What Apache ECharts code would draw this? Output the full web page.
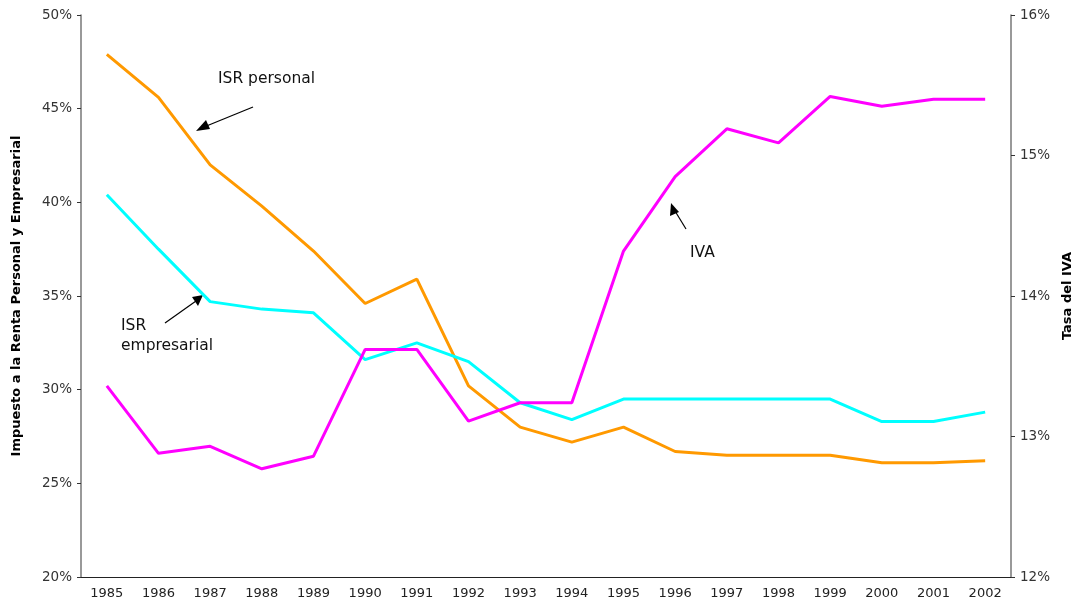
<!DOCTYPE html>
<html>
<head>
<meta charset="utf-8">
<script src="https://cdn.jsdelivr.net/npm/echarts@6/dist/echarts.min.js"></script>
<style>
  html, body { margin: 0; padding: 0; background: #fff; }
  #chart { width: 1076px; height: 606px; }
</style>
</head>
<body>
<div id="chart"></div>
<script>
var years = ['1985','1986','1987','1988','1989','1990','1991','1992','1993','1994',
             '1995','1996','1997','1998','1999','2000','2001','2002'];
// tasas en porcentaje
var isrPersonal =    [47.9, 45.6, 42.0, 39.8, 37.4, 34.6, 35.9, 30.2, 28.0, 27.2,
                      28.0, 26.7, 26.5, 26.5, 26.5, 26.1, 26.1, 26.2];
var isrEmpresarial = [40.4, 37.5, 34.7, 34.3, 34.1, 31.6, 32.5, 31.5, 29.3, 28.4,
                      29.5, 29.5, 29.5, 29.5, 29.5, 28.3, 28.3, 28.8];
var iva =            [13.36, 12.88, 12.93, 12.77, 12.86, 13.62, 13.62, 13.11, 13.24, 13.24,
                      14.32, 14.85, 15.19, 15.09, 15.42, 15.35, 15.40, 15.40];

var font = 'DejaVu Sans, Verdana, sans-serif';
var chart = echarts.init(document.getElementById('chart'));

var option = {
  backgroundColor: '#fff',
  animation: false,
  grid: { left: 81, right: 65, top: 15, bottom: 29, outerBoundsMode: 'none' },
  xAxis: {
    type: 'category',
    data: years,
    boundaryGap: true,
    axisLine: { lineStyle: { color: '#222', width: 1 } },
    axisTick: { length: 5, lineStyle: { color: '#222' } },
    axisLabel: { color: '#222', fontFamily: font, fontSize: 13, margin: 10 }
  },
  yAxis: [
    {
      type: 'value', min: 20, max: 50, interval: 5,
      name: 'Impuesto a la Renta Personal y Empresarial',
      nameLocation: 'middle', nameGap: 58,
      nameTextStyle: { color: '#000', fontFamily: font, fontSize: 13, fontWeight: 'bold' },
      axisLine: { show: true, lineStyle: { color: '#777', width: 1.5 } },
      axisTick: { show: true, length: 4, lineStyle: { color: '#333' } },
      axisLabel: { color: '#333', fontFamily: font, fontSize: 13.5, margin: 9, formatter: '{value}%' },
      splitLine: { show: false }
    },
    {
      type: 'value', min: 12, max: 16, interval: 1,
      name: 'Tasa del IVA',
      nameLocation: 'middle', nameGap: 48,
      nameTextStyle: { color: '#000', fontFamily: font, fontSize: 13, fontWeight: 'bold' },
      axisLine: { show: true, lineStyle: { color: '#777', width: 1.5 } },
      axisTick: { show: true, length: 4, lineStyle: { color: '#333' } },
      axisLabel: { color: '#333', fontFamily: font, fontSize: 13.5, margin: 9, formatter: '{value}%' },
      splitLine: { show: false }
    }
  ],
  series: [
    {
      name: 'ISR personal', type: 'line', data: isrPersonal, yAxisIndex: 0,
      symbol: 'none', lineStyle: { color: '#FF9900', width: 3 }, itemStyle: { color: '#FF9900' }
    },
    {
      name: 'ISR empresarial', type: 'line', data: isrEmpresarial, yAxisIndex: 0,
      symbol: 'none', lineStyle: { color: '#00FFFF', width: 3 }, itemStyle: { color: '#00FFFF' }
    },
    {
      name: 'IVA', type: 'line', data: iva, yAxisIndex: 1,
      symbol: 'none', lineStyle: { color: '#FF00FF', width: 3 }, itemStyle: { color: '#FF00FF' }
    }
  ],
  graphic: [
    { type: 'text', left: 218, top: 71, style: { text: 'ISR personal', fill: '#111', font: '15.5px ' + font } },
    { type: 'line', shape: { x1: 253, y1: 107, x2: 204, y2: 127 }, style: { stroke: '#000', lineWidth: 1.2 } },
    { type: 'polygon', shape: { points: [[196, 131], [206, 120], [210, 129]] }, style: { fill: '#000' } },

    { type: 'text', left: 121, top: 316, style: { text: 'ISR\nempresarial', fill: '#111', font: '15.5px ' + font, lineHeight: 20 } },
    { type: 'line', shape: { x1: 165, y1: 323, x2: 196, y2: 301 }, style: { stroke: '#000', lineWidth: 1.2 } },
    { type: 'polygon', shape: { points: [[203, 295], [192, 297], [198, 306]] }, style: { fill: '#000' } },

    { type: 'text', left: 690, top: 245, style: { text: 'IVA', fill: '#111', font: '15.5px ' + font } },
    { type: 'line', shape: { x1: 686, y1: 229, x2: 675, y2: 211 }, style: { stroke: '#000', lineWidth: 1.2 } },
    { type: 'polygon', shape: { points: [[671, 203], [670, 216], [679, 212]] }, style: { fill: '#000' } }
  ]
};

chart.setOption(option);
</script>
</body>
</html>
